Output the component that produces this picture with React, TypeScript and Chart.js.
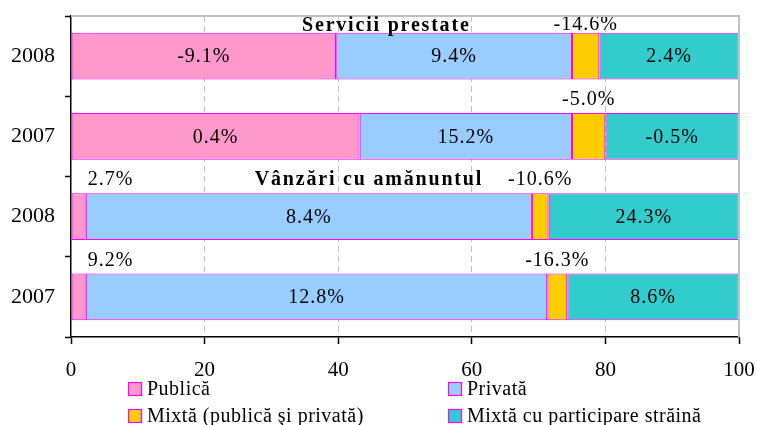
import { useEffect, useRef } from 'react';
import { Chart, registerables } from 'chart.js';

Chart.register(...registerables);

// ---------- data ----------
const categories = ['2008', '2007', '2008', '2007'];
const seriesNames = ['Publică', 'Privată', 'Mixtă (publică şi privată)', 'Mixtă cu participare străină'];
// shares (%) of each ownership type – bar lengths
const publicaShare = [39.7, 43.2, 2.2, 2.2];
const privataShare = [35.3, 31.8, 66.8, 69.1];
const mixtaShare = [4.1, 5.0, 2.5, 3.0];
const strainaShare = [20.9, 20.0, 28.5, 25.7];
// growth rates (%) printed on the segments
const publicaGrowth = [-9.1, 0.4, 2.7, 9.2];
const privataGrowth = [9.4, 15.2, 8.4, 12.8];
const mixtaGrowth = [-14.6, -5.0, -10.6, -16.3];
const strainaGrowth = [2.4, -0.5, 24.3, 8.6];
const xMin = 0;
const xMax = 100;
const xStep = 20;
const groupTitles = ['Servicii prestate', 'Vânzări cu amănuntul'];
const groupFirstCategory = [0, 2];

// ---------- styles ----------
const fillColors = ['#FF99CC', '#99CCFF', '#FFCC00', '#33CCCC'];
const edgeColor = '#FF00FF';
const FONT = '"Liberation Serif", "Times New Roman", serif';
const TITLE_X_FRAC = [0.472, 0.446];

const growthSets = [publicaGrowth, privataGrowth, mixtaGrowth, strainaGrowth];
const fmt = (v: number) => v.toFixed(1) + '%';

const segLabelPlugin = {
  id: 'segLabels',
  afterDatasetsDraw(chart: any) {
    const ctx = chart.ctx as CanvasRenderingContext2D;
    const area = chart.chartArea;
    ctx.save();
    ctx.font = `20px ${FONT}`;
    (ctx as any).letterSpacing = '1px';
    ctx.fillStyle = '#000';
    ctx.textBaseline = 'middle';
    chart.data.datasets.forEach((_ds: any, di: number) => {
      const meta = chart.getDatasetMeta(di);
      meta.data.forEach((bar: any, i: number) => {
        const p = bar.getProps(['x', 'y', 'base', 'height'], true);
        const left = Math.min(p.x, p.base);
        const right = Math.max(p.x, p.base);
        const w = right - left;
        const text = fmt(growthSets[di][i]);
        const top = p.y - p.height / 2;
        if (w > 50) {
          ctx.textAlign = 'center';
          ctx.fillText(text, (left + right) / 2, p.y + 1);
        } else {
          const ly = Math.max(top - 13, area.top + 9);
          if (di === 0) {
            ctx.textAlign = 'left';
            ctx.fillText(text, right + 2, ly);
          } else {
            ctx.textAlign = 'center';
            ctx.fillText(text, (left + right) / 2, ly);
          }
        }
      });
    });
    ctx.restore();
  },
};

const decorPlugin = {
  id: 'decor',
  afterDraw(chart: any) {
    const ctx = chart.ctx as CanvasRenderingContext2D;
    const area = chart.chartArea;
    ctx.save();
    // light plot frame (top / right)
    ctx.strokeStyle = '#c0c0c0';
    ctx.lineWidth = 2;
    ctx.beginPath();
    ctx.moveTo(area.left, area.top);
    ctx.lineTo(area.right, area.top);
    ctx.lineTo(area.right, area.bottom);
    ctx.stroke();

    // group titles
    ctx.font = `bold 20px ${FONT}`;
    (ctx as any).letterSpacing = '1.8px';
    ctx.fillStyle = '#000';
    ctx.textAlign = 'center';
    ctx.textBaseline = 'alphabetic';
    const meta0 = chart.getDatasetMeta(0);
    groupTitles.forEach((t, gi) => {
      const bar: any = meta0.data[groupFirstCategory[gi]];
      const p = bar.getProps(['y', 'height'], true);
      const top = p.y - p.height / 2;
      const by = Math.max(top - 8.5, area.top + 14.5);
      const x = area.left + TITLE_X_FRAC[gi] * (area.right - area.left);
      ctx.fillText(t, x, by);
    });

    // legend (2 x 2)
    ctx.font = `20px ${FONT}`;
    (ctx as any).letterSpacing = '0.5px';
    ctx.textAlign = 'left';
    ctx.textBaseline = 'middle';
    const colX = [128, 448];
    const rowY = [382, 409];
    chart.data.datasets.forEach((ds: any, di: number) => {
      const bx = colX[di % 2];
      const by = rowY[Math.floor(di / 2)];
      ctx.fillStyle = ds.backgroundColor;
      ctx.fillRect(bx, by, 14, 14);
      ctx.strokeStyle = edgeColor;
      ctx.lineWidth = 1.2;
      ctx.strokeRect(bx + 0.5, by + 0.5, 13, 13);
      ctx.fillStyle = '#000';
      ctx.fillText(ds.label, bx + 19, by + 7.5);
    });
    ctx.restore();
  },
};

export default function App() {
  const canvasRef = useRef<HTMLCanvasElement | null>(null);

  useEffect(() => {
    document.body.style.margin = '0';
    const canvas = canvasRef.current;
    if (!canvas) return;
    const shares = [publicaShare, privataShare, mixtaShare, strainaShare];
    const chart = new Chart(canvas, {
      type: 'bar',
      data: {
        labels: categories,
        datasets: seriesNames.map((name, i) => ({
          label: name,
          data: shares[i],
          backgroundColor: fillColors[i],
          borderColor: edgeColor,
          borderWidth: 1.2,
          borderSkipped: false,
          barPercentage: 0.585,
          categoryPercentage: 1,
        })),
      },
      options: {
        indexAxis: 'y',
        responsive: false,
        animation: false,
        layout: { padding: { top: 16, right: 18, bottom: 48, left: 0 } },
        plugins: {
          legend: { display: false },
          tooltip: { enabled: false },
          title: { display: false },
        },
        scales: {
          x: {
            type: 'linear',
            stacked: true,
            min: xMin,
            max: xMax,
            ticks: {
              stepSize: xStep,
              color: '#000',
              font: { family: FONT, size: 21 },
              padding: 14,
            },
            grid: {
              color: (c: any) =>
                c.tick && (c.tick.value === xMin || c.tick.value === xMax) ? 'rgba(0,0,0,0)' : '#c0c0c0',
              lineWidth: 1,
              drawTicks: true,
              tickLength: 7,
              tickColor: '#000',
              tickWidth: 1.5,
              tickBorderDash: [],
            },
            border: { display: true, color: '#000', width: 1.5, dash: [6, 4] },
            afterFit: (s: any) => {
              s.height = 40;
              s.paddingLeft = 0;
              s.paddingRight = 0;
            },
          },
          y: {
            type: 'category',
            stacked: true,
            offset: true,
            ticks: {
              color: '#000',
              font: { family: FONT, size: 22 },
              padding: 10,
            },
            grid: {
              offset: true,
              drawOnChartArea: false,
              drawTicks: true,
              tickLength: 6,
              tickColor: '#000',
              tickWidth: 1.5,
            },
            border: { display: true, color: '#000', width: 1.5 },
            afterFit: (s: any) => {
              s.width = 71;
              s.paddingTop = 0;
              s.paddingBottom = 0;
            },
          },
        },
      },
      plugins: [segLabelPlugin, decorPlugin],
    });
    return () => chart.destroy();
  }, []);

  return (
    <div style={{ width: 757, height: 425 }}>
      <canvas ref={canvasRef} width={757} height={425} />
    </div>
  );
}
